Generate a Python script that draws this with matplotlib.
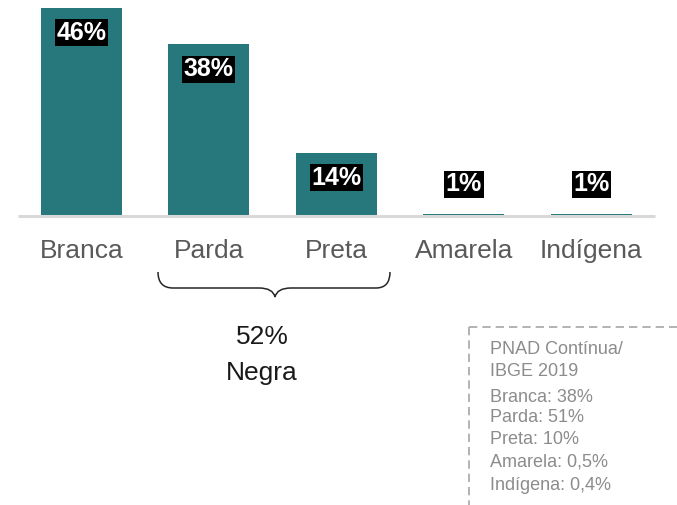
import matplotlib.pyplot as plt
from matplotlib.path import Path
from matplotlib.patches import PathPatch
from matplotlib.lines import Line2D

plt.rcParams['font.family'] = ['Liberation Sans', 'DejaVu Sans']

# data
categories = ['Branca', 'Parda', 'Preta', 'Amarela', 'Indígena']
values = [46, 38, 14, 0.5, 0.5]
labels = ['46%', '38%', '14%', '1%', '1%']
group_label = ['52%', 'Negra']
source_lines = ['PNAD Contínua/', 'IBGE 2019', 'Branca: 38%', 'Parda: 51%',
                'Preta: 10%', 'Amarela: 0,5%', 'Indígena: 0,4%']

W, H = 677, 505
bar_color = '#27787c'

fig = plt.figure(figsize=(W / 100, H / 100), dpi=100)
ax = fig.add_axes([0, 0, 1, 1])
ax.set_xlim(-0.639, 4.671)
ax.set_ylim(-63.8, 47.68)
ax.axis('off')

x = list(range(len(categories)))
ax.bar(x, values, width=0.635, color=bar_color, zorder=1)
ax.plot([-0.5, 4.5], [0, 0], color='#d9d9d9', lw=2.2, zorder=2, solid_capstyle='butt')

for xi, v, lab, name in zip(x, values, labels, categories):
    ly = v - 5.6 if v > 10 else 7
    ax.text(xi, ly, lab, ha='center', va='center', fontsize=18,
            fontweight='bold', color='white', zorder=3,
            bbox=dict(boxstyle='square,pad=0.06', fc='black', ec='none'))
    ax.text(xi, -7.8, name, ha='center', va='center', fontsize=19,
            color='#595959')


def fx(px):
    return px / W


def fy(py):
    return 1 - py / H


# brace under Parda / Preta
pts = [(158, 272), (158, 288), (173, 288),
       (259, 288),
       (273, 288), (275, 297),
       (277, 288), (291, 288),
       (376, 288),
       (390, 288), (390, 272)]
codes = [Path.MOVETO, Path.CURVE3, Path.CURVE3,
         Path.LINETO,
         Path.CURVE3, Path.CURVE3,
         Path.CURVE3, Path.CURVE3,
         Path.LINETO,
         Path.CURVE3, Path.CURVE3]
brace = Path([(fx(a), fy(b)) for a, b in pts], codes)
fig.patches.append(PathPatch(brace, fc='none', ec='#262626', lw=1.1,
                             transform=fig.transFigure))

fig.text(fx(262), fy(337), group_label[0], ha='center', va='center',
         fontsize=19, color='#1a1a1a')
fig.text(fx(262), fy(373), group_label[1], ha='center', va='center',
         fontsize=19, color='#1a1a1a')

# dashed source box
box_style = dict(color='#a6a6a6', lw=1.2, linestyle=(0, (5, 3)),
                 transform=fig.transFigure)
fig.lines.append(Line2D([fx(469), fx(677)], [fy(327), fy(327)], **box_style))
fig.lines.append(Line2D([fx(469), fx(469)], [fy(327), fy(505)], **box_style))

line_y = [350, 372, 397, 418, 440, 462, 485]
for txt, py in zip(source_lines, line_y):
    fig.text(fx(490), fy(py), txt, ha='left', va='center', fontsize=13,
             color='#8c8c8c')

fig.savefig('out.png', dpi=100)
